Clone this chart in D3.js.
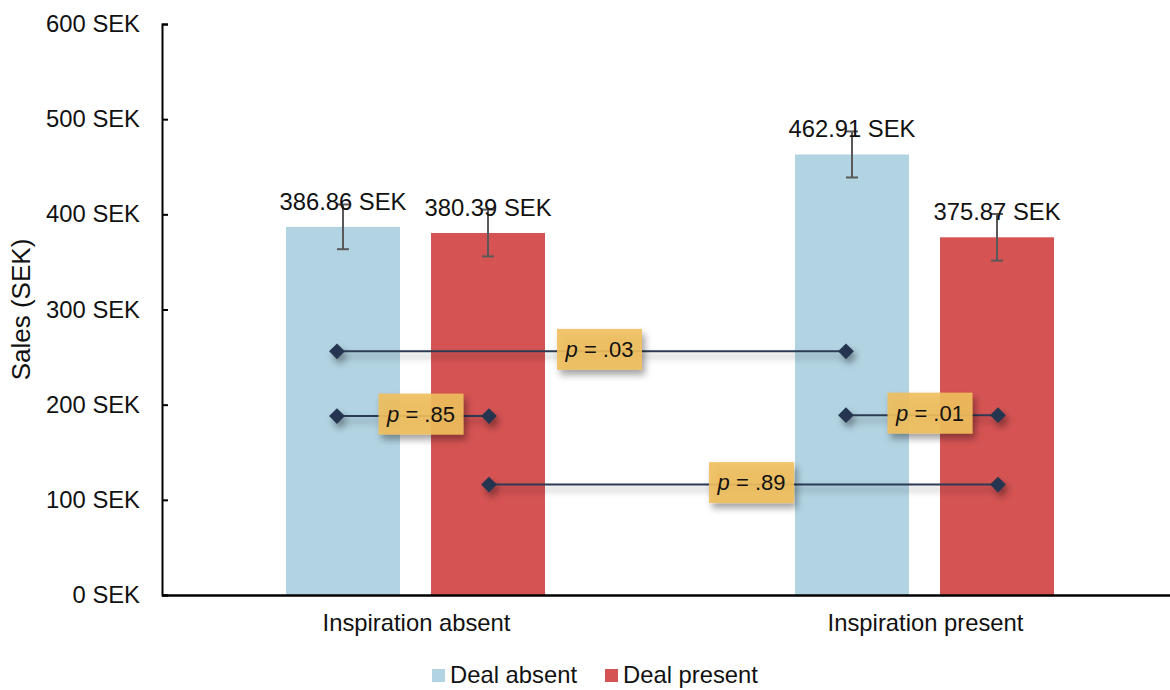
<!DOCTYPE html>
<html>
<head>
<meta charset="utf-8">
<script src="https://cdn.jsdelivr.net/npm/d3@7"></script>
<style>
  body { margin: 0; background: #fff; }
  svg { font-family: "Liberation Sans", Arial, sans-serif; }
</style>
</head>
<body>
<div id="chart-area"></div>
<script>
// data
var groups = ["Inspiration absent", "Inspiration present"];
var series = ["Deal absent", "Deal present"];
var colors = ["#b2d3e2", "#d55353"];
var means = [[386.86, 380.39], [462.91, 375.87]];
var errors = [[23.5, 24.6], [24.2, 24.5]];
var yTicks = [0, 100, 200, 300, 400, 500, 600];

// comparison brackets: [group, series] of each end, height, p label
var pFrom = [[0, 0], [0, 0], [0, 1], [1, 0]];
var pTo = [[1, 0], [0, 1], [1, 1], [1, 1]];
var pLevels = [256, 188, 116, 189];
var pLabels = [".03", ".85", ".89", ".01"];

var W = 1170, H = 690;
var margin = {left: 162, top: 24, bottom: 95};
var plotBottom = H - margin.bottom;
var fs = "23.8px";

var svg = d3.select("#chart-area")
  .append("svg")
  .attr("width", W)
  .attr("height", H);

var defs = svg.append("defs");
defs.append("filter")
  .attr("id", "shadow")
  .attr("x", "-20%").attr("y", "-100%")
  .attr("width", "140%").attr("height", "300%")
  .append("feDropShadow")
  .attr("dx", 3).attr("dy", 5)
  .attr("stdDeviation", 3.5)
  .attr("flood-color", "#000")
  .attr("flood-opacity", 0.4);

var x0 = d3.scaleBand()
  .domain(groups)
  .range([margin.left, 1180]);

var x1 = d3.scaleBand()
  .domain(series)
  .range([124, 383])
  .paddingInner(0.214);

var y = d3.scaleLinear()
  .domain([0, 600])
  .range([plotBottom, margin.top]);

var nudge = [-6, 1];
function cx(gi, si) {
  return x0(groups[gi]) + x1(series[si]) + x1.bandwidth() / 2;
}

// bars
var bars = [];
groups.forEach(function(g, gi) {
  series.forEach(function(s, si) {
    bars.push({gi: gi, si: si, v: means[gi][si], e: errors[gi][si]});
  });
});

svg.selectAll("rect.bar").data(bars).enter().append("rect")
  .attr("class", "bar")
  .attr("x", function(d) { return x0(groups[d.gi]) + x1(series[d.si]); })
  .attr("width", x1.bandwidth())
  .attr("y", function(d) { return y(d.v); })
  .attr("height", function(d) { return plotBottom - y(d.v); })
  .attr("fill", function(d) { return colors[d.si]; });

// error bars
var eb = svg.selectAll("g.err").data(bars).enter().append("g")
  .attr("class", "err")
  .attr("stroke", "#595959")
  .attr("stroke-width", 2);
eb.append("line")
  .attr("x1", function(d) { return cx(d.gi, d.si); })
  .attr("x2", function(d) { return cx(d.gi, d.si); })
  .attr("y1", function(d) { return y(d.v + d.e); })
  .attr("y2", function(d) { return y(d.v - d.e); });
eb.selectAll("line.cap")
  .data(function(d) { return [d.v + d.e, d.v - d.e].map(function(v) { return {d: d, v: v}; }); })
  .enter().append("line")
  .attr("class", "cap")
  .attr("x1", function(c) { return cx(c.d.gi, c.d.si) - 6; })
  .attr("x2", function(c) { return cx(c.d.gi, c.d.si) + 6; })
  .attr("y1", function(c) { return y(c.v); })
  .attr("y2", function(c) { return y(c.v); });

// value labels
svg.selectAll("text.val").data(bars).enter().append("text")
  .attr("class", "val")
  .attr("x", function(d) { return cx(d.gi, d.si); })
  .attr("y", function(d) { return y(d.v) - 17; })
  .attr("text-anchor", "middle")
  .attr("font-size", fs)
  .attr("fill", "#111")
  .text(function(d) { return d.v.toFixed(2) + " SEK"; });

// axes
var yAxis = svg.append("g")
  .attr("transform", "translate(" + margin.left + ",0)")
  .call(d3.axisLeft(y).tickValues(yTicks)
    .tickSizeInner(-6).tickSizeOuter(-6).tickPadding(22)
    .tickFormat(function(d) { return d + " SEK"; }));
yAxis.select(".domain").attr("stroke", "#000").attr("stroke-width", 2);
yAxis.selectAll(".tick line").attr("stroke", "#000").attr("stroke-width", 2);
yAxis.selectAll("text").attr("font-size", fs).attr("fill", "#111")
  .attr("font-family", "Liberation Sans, Arial, sans-serif");

var xAxis = svg.append("g")
  .attr("transform", "translate(0," + plotBottom + ")")
  .call(d3.axisBottom(x0).tickSize(0).tickPadding(19));
xAxis.select(".domain").attr("stroke", "#000").attr("stroke-width", 2.5);
xAxis.selectAll("text").attr("font-size", fs).attr("fill", "#111")
  .attr("font-family", "Liberation Sans, Arial, sans-serif");

svg.append("text")
  .attr("transform", "translate(30," + (margin.top + plotBottom) / 2 + ") rotate(-90)")
  .attr("text-anchor", "middle")
  .attr("font-size", "26px")
  .attr("fill", "#111")
  .text("Sales (SEK)");

// p-value brackets
var brackets = pLevels.map(function(v, i) {
  return {
    xa: cx(pFrom[i][0], pFrom[i][1]) + nudge[pFrom[i][1]],
    xb: cx(pTo[i][0], pTo[i][1]) + nudge[pTo[i][1]],
    y: y(v),
    p: pLabels[i]
  };
});

var br = svg.selectAll("g.bracket").data(brackets).enter().append("g")
  .attr("class", "bracket")
  .attr("filter", "url(#shadow)");
br.append("line")
  .attr("x1", function(d) { return d.xa; })
  .attr("x2", function(d) { return d.xb; })
  .attr("y1", function(d) { return d.y; })
  .attr("y2", function(d) { return d.y; })
  .attr("stroke", "#2c3b52")
  .attr("stroke-width", 2);
br.selectAll("path")
  .data(function(d) { return [[d.xa, d.y], [d.xb, d.y]]; })
  .enter().append("path")
  .attr("d", d3.symbol().type(d3.symbolSquare).size(125))
  .attr("transform", function(p) { return "translate(" + p[0] + "," + p[1] + ") rotate(45)"; })
  .attr("fill", "#253650");

var boxes = svg.selectAll("g.pbox").data(brackets).enter().append("g")
  .attr("class", "pbox")
  .attr("transform", function(d) { return "translate(" + ((d.xa + d.xb) / 2 + 8) + "," + (d.y - 2) + ")"; });
boxes.append("rect")
  .attr("x", -42.5).attr("y", -20.5)
  .attr("width", 85).attr("height", 41)
  .attr("fill", "#f0bf5c")
  .attr("fill-opacity", 0.9)
  .attr("filter", "url(#shadow)");
var pt = boxes.append("text")
  .attr("text-anchor", "middle")
  .attr("dy", "0.35em")
  .attr("font-size", "22px")
  .attr("fill", "#111");
pt.append("tspan").attr("font-style", "italic").text("p");
pt.append("tspan").text(function(d) { return " = " + d.p; });

// legend
var legX = [432, 605];
var leg = svg.selectAll("g.leg").data(series).enter().append("g")
  .attr("class", "leg")
  .attr("transform", function(d, i) { return "translate(" + legX[i] + ",669)"; });
leg.append("rect")
  .attr("width", 13).attr("height", 13)
  .attr("fill", function(d, i) { return colors[i]; });
leg.append("text")
  .attr("x", 18).attr("y", 13.5)
  .attr("font-size", fs)
  .attr("fill", "#111")
  .text(function(d) { return d; });
</script>
</body>
</html>
